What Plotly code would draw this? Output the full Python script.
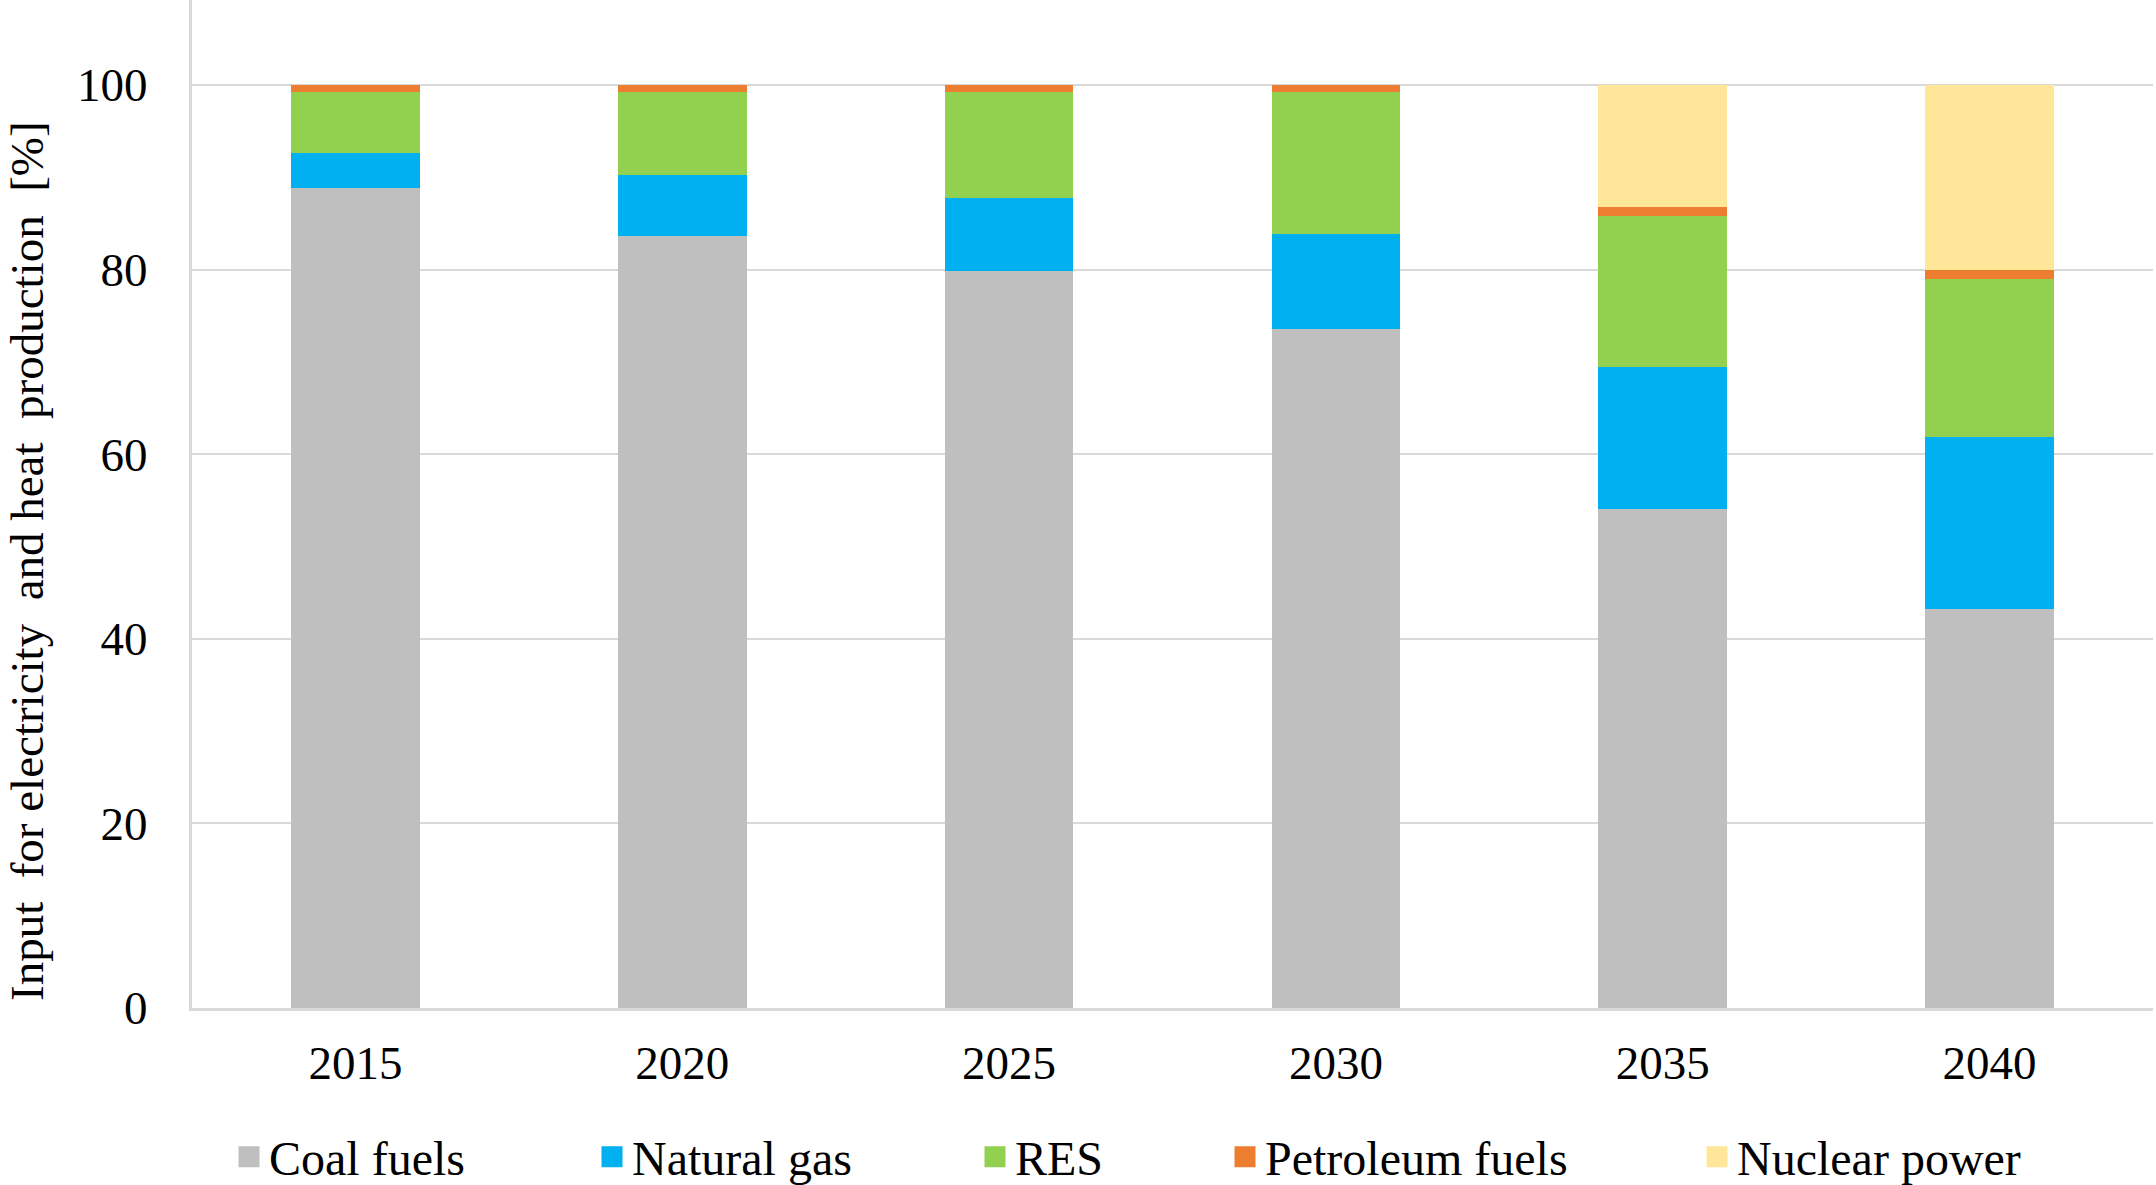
import plotly.graph_objects as go

# ---- data ----
years = ["2015", "2020", "2025", "2030", "2035", "2040"]
coal = [88.8, 83.6, 79.8, 73.6, 54.1, 43.2]
natural_gas = [3.8, 6.6, 8.0, 10.3, 15.3, 18.7]
res = [6.6, 9.0, 11.4, 15.3, 16.4, 17.1]
petroleum = [0.8, 0.8, 0.8, 0.8, 1.0, 1.0]
nuclear = [0, 0, 0, 0, 13.2, 20.0]

series_names = ["Coal fuels", "Natural gas", "RES", "Petroleum fuels", "Nuclear power"]
series_values = [coal, natural_gas, res, petroleum, nuclear]
colors = ["#BFBFBF", "#00B0F0", "#92D050", "#ED7D31", "#FFE699"]
y_ticks = [0, 20, 40, 60, 80, 100]
y_title = "Input\u00a0\u00a0for electricity\u00a0\u00a0and heat\u00a0\u00a0production\u00a0\u00a0[%]"

FONT = "Liberation Serif, Times New Roman, serif"
W, H = 2156, 1185
ML, MR, MT, MB = 192, 3, 0, 177
plot_w = W - ML - MR
plot_h = H - MT - MB

legend_px = [229, 592, 975, 1225, 1697]
legend_keys = ["legend", "legend2", "legend3", "legend4", "legend5"]

fig = go.Figure()
for name, vals, col in zip(series_names, series_values, colors):
    fig.add_trace(go.Bar(
        x=years, y=vals, name=name, marker=dict(color=col, line=dict(width=0)),
        showlegend=False,
    ))

# legend-only entries (larger square symbols)
for name, col, key in zip(series_names, colors, legend_keys):
    fig.add_trace(go.Scatter(
        x=[None], y=[None], mode="markers", name=name, legend=key,
        marker=dict(symbol="square", size=16, color=col, line=dict(color=col, width=5)),
        showlegend=True,
    ))

legend_layout = {}
for key, px in zip(legend_keys, legend_px):
    legend_layout[key] = dict(
        x=(px - ML) / plot_w, xanchor="left",
        y=(plot_h - 1157) / plot_h, yanchor="middle",
        orientation="h", bgcolor="rgba(0,0,0,0)",
        font=dict(family=FONT, size=48, color="#000000"),
        itemwidth=30,
    )

fig.update_layout(
    width=W, height=H,
    margin=dict(l=ML, r=MR, t=MT, b=MB, pad=0, autoexpand=False),
    barmode="stack", bargap=0.606,
    plot_bgcolor="white", paper_bgcolor="white",
    font=dict(family=FONT, size=47, color="#000000"),
    xaxis=dict(
        type="category", showline=True, linecolor="#D9D9D9", linewidth=3,
        showgrid=False, ticks="", ticklabelstandoff=12, automargin=False,
        tickfont=dict(family=FONT, size=47, color="#000000"),
    ),
    yaxis=dict(
        range=[0, 109.2], tickvals=y_ticks, showline=True, linecolor="#D9D9D9",
        linewidth=3, showgrid=True, gridcolor="#D9D9D9", gridwidth=2,
        zeroline=False, ticks="", ticklabelstandoff=32, automargin=False,
        tickfont=dict(family=FONT, size=47, color="#000000"),
    ),
    annotations=[dict(
        text=y_title, textangle=-90, showarrow=False,
        xref="paper", yref="paper",
        x=(27 - ML) / plot_w, y=(plot_h - 561) / plot_h,
        xanchor="center", yanchor="middle",
        font=dict(family=FONT, size=47, color="#000000"),
    )],
    **legend_layout,
)

fig.write_html(
    "out.html",
    config={"displayModeBar": False},
    post_script="document.body.style.margin='0';document.body.style.overflow='hidden';",
)
